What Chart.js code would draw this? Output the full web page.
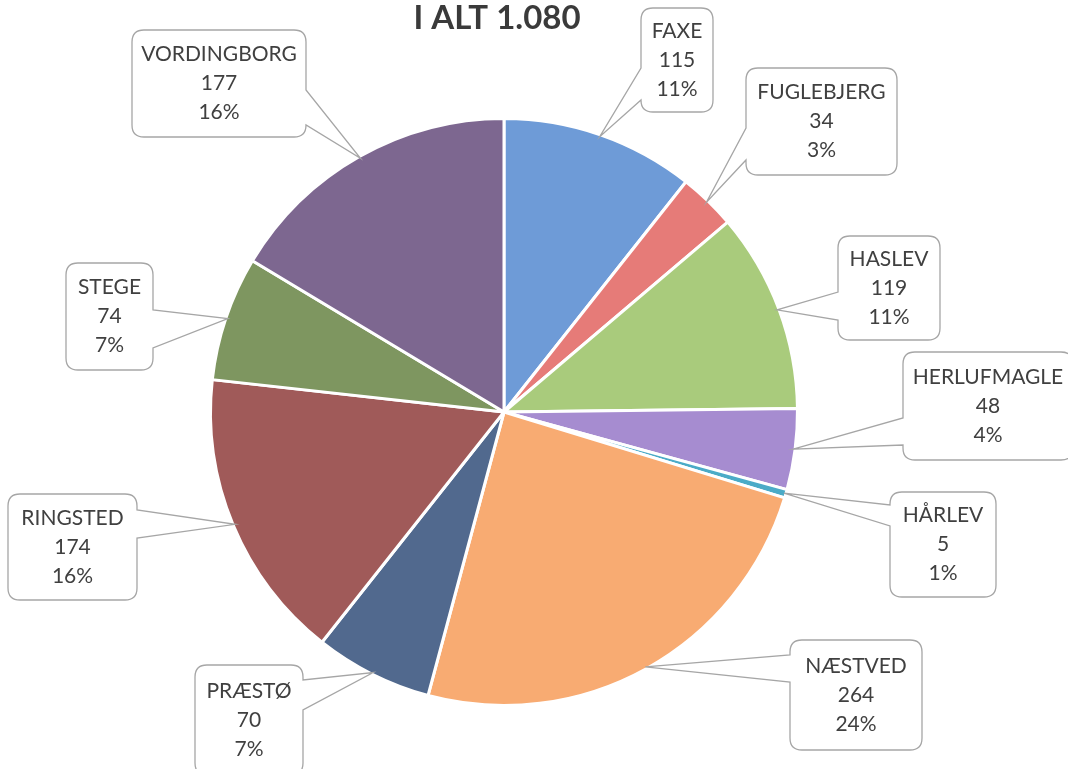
<!DOCTYPE html>
<html>
<head>
<meta charset="utf-8">
<script src="https://cdn.jsdelivr.net/npm/chart.js@4.4.0/dist/chart.umd.min.js"></script>
<style>
  html, body { margin: 0; padding: 0; background: #fff; }
  #wrap { width: 1068px; height: 769px; position: relative; }
</style>
</head>
<body>
<div id="wrap"><canvas id="pieChart"></canvas></div>
<script>
// Data
const categories = ["FAXE", "FUGLEBJERG", "HASLEV", "HERLUFMAGLE", "HÅRLEV", "NÆSTVED", "PRÆSTØ", "RINGSTED", "STEGE", "VORDINGBORG"];
const counts = [115, 34, 119, 48, 5, 264, 70, 174, 74, 177];
const percentLabels = ["11%", "3%", "11%", "4%", "1%", "24%", "7%", "16%", "7%", "16%"];
const titleText = "I ALT 1.080";

const sliceColors = ["#6e9bd7", "#e67b78", "#a9cb7c", "#a68cd0", "#4babc7", "#f8ab72", "#51698e", "#a05a59", "#7e9660", "#7d6790"];

// callout boxes: box rect, side of the wedge, wedge start/end on that side
const callouts = [
  { x: 641, y: 8,   w: 72,  h: 104, side: "left",  a: 68,  b: 100 },
  { x: 746, y: 68,  w: 151, h: 107, side: "left",  a: 128, b: 160 },
  { x: 838, y: 236, w: 102, h: 104, side: "left",  a: 292, b: 320 },
  { x: 903, y: 352, w: 170, h: 108, side: "left",  a: 418, b: 445 },
  { x: 890, y: 492, w: 106, h: 105, side: "left",  a: 505, b: 526 },
  { x: 790, y: 640, w: 132, h: 110, side: "left",  a: 655, b: 682 },
  { x: 195, y: 665, w: 108, h: 110, side: "right", a: 680, b: 710 },
  { x: 8,   y: 494, w: 129, h: 106, side: "right", a: 510, b: 538 },
  { x: 66,  y: 263, w: 87,  h: 107, side: "right", a: 310, b: 348 },
  { x: 132, y: 30,  w: 174, h: 107, side: "right", a: 90,  b: 125 }
];

function bubblePath(ctx, c, px, py) {
  const r = 12;
  const L = c.x, T = c.y, R = c.x + c.w, B = c.y + c.h;
  ctx.beginPath();
  ctx.moveTo(L + r, T);
  ctx.lineTo(R - r, T);
  ctx.quadraticCurveTo(R, T, R, T + r);
  if (c.side === "right") {
    ctx.lineTo(R, c.a);
    ctx.lineTo(px, py);
    ctx.lineTo(R, c.b);
  }
  ctx.lineTo(R, B - r);
  ctx.quadraticCurveTo(R, B, R - r, B);
  ctx.lineTo(L + r, B);
  ctx.quadraticCurveTo(L, B, L, B - r);
  if (c.side === "left") {
    ctx.lineTo(L, c.b);
    ctx.lineTo(px, py);
    ctx.lineTo(L, c.a);
  }
  ctx.lineTo(L, T + r);
  ctx.quadraticCurveTo(L, T, L + r, T);
  ctx.closePath();
}

const calloutPlugin = {
  id: "callouts",
  afterDraw(chart) {
    const ctx = chart.ctx;
    const arcs = chart.getDatasetMeta(0).data;
    ctx.save();
    // title
    ctx.fillStyle = "#3a3a3a";
    ctx.font = "bold 33px Lato";
    ctx.textAlign = "center";
    ctx.textBaseline = "middle";
    ctx.fillText(titleText, 497, 18);

    arcs.forEach((arc, i) => {
      const c = callouts[i];
      const mid = (arc.startAngle + arc.endAngle) / 2;
      const px = arc.x + Math.cos(mid) * (arc.outerRadius - 2);
      const py = arc.y + Math.sin(mid) * (arc.outerRadius - 2);
      bubblePath(ctx, c, px, py);
      ctx.strokeStyle = "#a6a6a6";
      ctx.lineWidth = 1.3;
      ctx.stroke();
      ctx.fillStyle = "#404040";
      ctx.font = "21px Lato";
      const cx = c.x + c.w / 2;
      const cy = c.y + c.h / 2;
      ctx.fillText(categories[i], cx, cy - 29);
      ctx.fillText(String(counts[i]), cx, cy);
      ctx.fillText(percentLabels[i], cx, cy + 29);
    });
    ctx.restore();
  }
};

new Chart(document.getElementById("pieChart"), {
  type: "pie",
  data: {
    labels: categories,
    datasets: [
      {
        data: counts,
        backgroundColor: sliceColors,
        borderColor: "#ffffff",
        borderWidth: 3,
      },
    ],
  },
  options: {
    responsive: true,
    maintainAspectRatio: false,
    animation: false,
    layout: { padding: { top: 117, bottom: 62, left: 204, right: 264 } },
    plugins: {
      legend: { display: false },
      tooltip: { enabled: false },
    },
  },
  plugins: [calloutPlugin],
});
</script>
</body>
</html>
